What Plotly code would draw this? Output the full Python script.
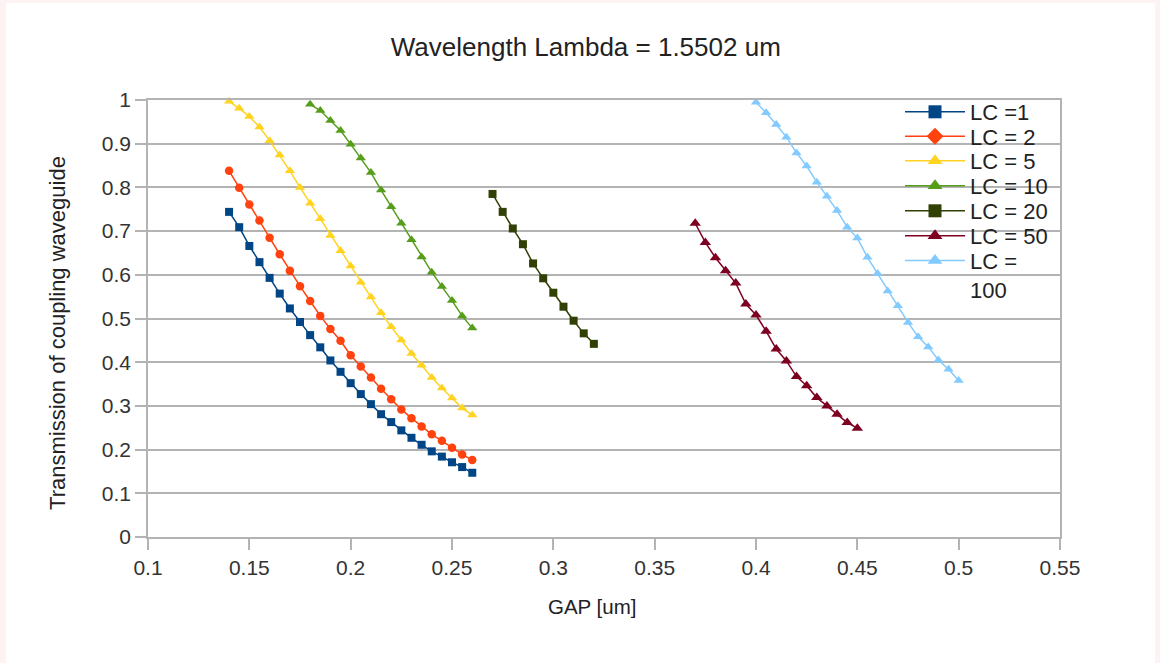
import plotly.graph_objects as go

# ---- data ----
gap_lc1 = [0.14, 0.145, 0.15, 0.155, 0.16, 0.165, 0.17, 0.175, 0.18, 0.185, 0.19, 0.195, 0.2,
           0.205, 0.21, 0.215, 0.22, 0.225, 0.23, 0.235, 0.24, 0.245, 0.25, 0.255, 0.26]
t_lc1 = [0.744, 0.709, 0.666, 0.629, 0.593, 0.557, 0.523, 0.492, 0.462, 0.434, 0.404, 0.378, 0.352,
         0.327, 0.304, 0.281, 0.263, 0.244, 0.227, 0.211, 0.196, 0.184, 0.171, 0.160, 0.147]

gap_lc2 = gap_lc1
t_lc2 = [0.838, 0.799, 0.761, 0.724, 0.685, 0.647, 0.609, 0.574, 0.540, 0.506, 0.476, 0.449, 0.416,
         0.390, 0.365, 0.339, 0.315, 0.292, 0.272, 0.253, 0.235, 0.220, 0.204, 0.189, 0.176]

gap_lc5 = gap_lc1
t_lc5 = [0.997, 0.981, 0.962, 0.938, 0.907, 0.874, 0.838, 0.800, 0.764, 0.728, 0.690, 0.655, 0.620,
         0.583, 0.549, 0.513, 0.481, 0.451, 0.420, 0.393, 0.365, 0.341, 0.318, 0.295, 0.279]

gap_lc10 = [0.18, 0.185, 0.19, 0.195, 0.2, 0.205, 0.21, 0.215, 0.22, 0.225, 0.23, 0.235, 0.24,
            0.245, 0.25, 0.255, 0.26]
t_lc10 = [0.990, 0.976, 0.953, 0.930, 0.899, 0.867, 0.834, 0.794, 0.756, 0.718, 0.680, 0.641, 0.606,
          0.573, 0.541, 0.506, 0.478]

gap_lc20 = [0.27, 0.275, 0.28, 0.285, 0.29, 0.295, 0.3, 0.305, 0.31, 0.315, 0.32]
t_lc20 = [0.785, 0.744, 0.706, 0.670, 0.626, 0.592, 0.559, 0.527, 0.495, 0.466, 0.442]

gap_lc50 = [0.37, 0.375, 0.38, 0.385, 0.39, 0.395, 0.4, 0.405, 0.41, 0.415, 0.42, 0.425, 0.43,
            0.435, 0.44, 0.445, 0.45]
t_lc50 = [0.718, 0.674, 0.639, 0.609, 0.581, 0.533, 0.508, 0.471, 0.430, 0.403, 0.367, 0.346, 0.319,
          0.300, 0.281, 0.262, 0.249]

gap_lc100 = [0.4, 0.405, 0.41, 0.415, 0.42, 0.425, 0.43, 0.435, 0.44, 0.445, 0.45, 0.455, 0.46,
             0.465, 0.47, 0.475, 0.48, 0.485, 0.49, 0.495, 0.5]
t_lc100 = [0.995, 0.971, 0.944, 0.915, 0.879, 0.849, 0.812, 0.780, 0.747, 0.709, 0.684, 0.640, 0.603,
           0.563, 0.529, 0.491, 0.458, 0.435, 0.405, 0.384, 0.358]

series_names = ["LC =1", "LC = 2", "LC = 5", "LC = 10", "LC = 20", "LC = 50", "LC =<br>100"]
series_x = [gap_lc1, gap_lc2, gap_lc5, gap_lc10, gap_lc20, gap_lc50, gap_lc100]
series_y = [t_lc1, t_lc2, t_lc5, t_lc10, t_lc20, t_lc50, t_lc100]
colors = ["#004586", "#ff420e", "#ffd320", "#579d1c", "#314004", "#7e0021", "#83caff"]
plot_symbols = ["square", "circle", "triangle-up", "triangle-up", "square", "triangle-up", "triangle-up"]
legend_symbols = ["square", "diamond", "triangle-up", "triangle-up", "square", "triangle-up", "triangle-up"]
plot_sizes = [8, 8.5, 9, 9, 8, 10, 9]

x_ticks = [0.1, 0.15, 0.2, 0.25, 0.3, 0.35, 0.4, 0.45, 0.5, 0.55]
y_ticks = [0, 0.1, 0.2, 0.3, 0.4, 0.5, 0.6, 0.7, 0.8, 0.9, 1]

FONT = "Liberation Sans, Arial, sans-serif"
TXT = "#222222"
fig = go.Figure()

for name, xs, ys, c, s, ms in zip(series_names, series_x, series_y, colors, plot_symbols, plot_sizes):
    fig.add_trace(go.Scatter(
        x=xs, y=ys, mode="lines+markers", name=name, showlegend=False,
        line=dict(color=c, width=1.5),
        marker=dict(symbol=s, size=ms, color=c),
        cliponaxis=False,
    ))

# legend entries: one small legend per row so the row spacing matches the reference
legend_ids = ["legend", "legend2", "legend3", "legend4", "legend5", "legend6", "legend7"]
for name, c, s, lid in zip(series_names, colors, legend_symbols, legend_ids):
    fig.add_trace(go.Scatter(
        x=[None], y=[None], mode="lines+markers", name=name, showlegend=True,
        legend=lid,
        line=dict(color=c, width=1.5),
        marker=dict(symbol=s, size=13, color=c),
    ))

row_px = [112, 136.5, 161, 186, 211, 236, 261]
legend_x = (900 - 148) / 912
legend_layout = {}
for i, (lid, rp) in enumerate(zip(legend_ids, row_px)):
    center = rp if i < 6 else rp + 14.3
    legend_layout[lid] = dict(
        x=legend_x, y=(537 - center) / 437, xanchor="left", yanchor="middle",
        bgcolor="rgba(0,0,0,0)", borderwidth=0,
        font=dict(family=FONT, size=22, color=TXT),
        itemwidth=60, valign="top",
    )

grid = "#b3b3b3"
fig.update_layout(
    width=1160, height=663,
    margin=dict(l=148, r=100, t=100, b=126),
    paper_bgcolor="#fdf3f2",
    plot_bgcolor="rgba(0,0,0,0)",
    font=dict(family=FONT, color=TXT, size=20),
    title=dict(text="Wavelength Lambda = 1.5502 um", x=0.505, xanchor="center",
               y=1 - 47 / 663, yanchor="middle",
               font=dict(family=FONT, size=26, color=TXT)),
    xaxis=dict(range=[0.1, 0.55], tickvals=x_ticks, ticktext=[f"{v:g}" for v in x_ticks],
               showgrid=False, zeroline=False,
               showline=True, linecolor=grid, linewidth=1.5, mirror=True,
               ticks="outside", ticklen=11, tickcolor=grid, tickwidth=1.5,
               tickfont=dict(size=21, color="#333333")),
    yaxis=dict(range=[0, 1], tickvals=y_ticks, ticktext=[f"{v:g}" for v in y_ticks],
               showgrid=True, gridcolor=grid, gridwidth=1.5, zeroline=False,
               showline=True, linecolor=grid, linewidth=1.5, mirror=True,
               ticks="outside", ticklen=11, tickcolor=grid, tickwidth=1.5,
               tickfont=dict(size=21, color="#333333")),
    annotations=[
        dict(text="GAP [um]", xref="paper", yref="paper", x=0.487, y=-0.160,
             xanchor="center", yanchor="middle", showarrow=False,
             font=dict(family=FONT, size=20.5, color=TXT)),
        dict(text="Transmission of coupling waveguide", xref="paper", yref="paper",
             x=-0.0987, y=0.467, xanchor="center", yanchor="middle", textangle=-90,
             showarrow=False, font=dict(family=FONT, size=22, color=TXT)),
    ],
    shapes=[
        dict(type="rect", xref="paper", yref="paper", layer="below",
             x0=(6 - 148) / 912, x1=(1155 - 148) / 912,
             y0=(537 - 670) / 437, y1=(537 - 3) / 437,
             fillcolor="white", line=dict(width=0)),
    ],
    **legend_layout,
)

fig.write_html("out.html")
